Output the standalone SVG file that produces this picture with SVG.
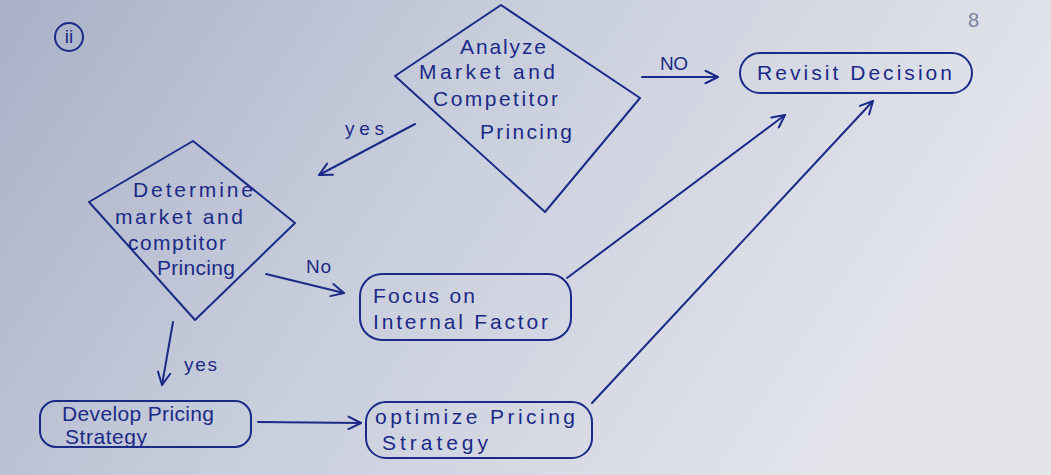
<svg xmlns="http://www.w3.org/2000/svg" width="1051" height="475" viewBox="0 0 1051 475">
<defs>
<linearGradient id="paper" x1="0" y1="0" x2="1" y2="0.3">
<stop offset="0" stop-color="#a9b1c7"/>
<stop offset="0.45" stop-color="#c8cddc"/>
<stop offset="1" stop-color="#e3e5eb"/>
</linearGradient>
<marker id="arr" viewBox="0 0 12 12" refX="11" refY="6" markerWidth="15" markerHeight="15" markerUnits="userSpaceOnUse" orient="auto">
<path d="M1,1 L11,6 L1,11" fill="none" stroke="#1b2a86" stroke-width="1.6" stroke-linecap="round" stroke-linejoin="round"/>
</marker>
<style>
.ink{fill:none;stroke:#1b2a86;stroke-width:2;stroke-linejoin:round;stroke-linecap:round}
.t{font-family:"Liberation Sans","DejaVu Sans",sans-serif;font-size:21px;fill:#1b2a86}
.lbl{font-family:"Liberation Sans","DejaVu Sans",sans-serif;font-size:19px;fill:#1b2a86}
</style>
</defs>
<rect x="0" y="0" width="1051" height="475" fill="url(#paper)"/>
<g id="page-mark">
<circle cx="69" cy="37" r="14" class="ink" stroke-width="1.6"/>
<text x="69" y="43" text-anchor="middle" class="lbl" font-size="17">ii</text>
<text x="968" y="27" font-family="Liberation Sans, sans-serif" font-size="20" fill="#7c84a0">8</text>
</g>
<g id="connectors">
<line x1="415" y1="124" x2="319" y2="175" class="ink" marker-end="url(#arr)"/>
<line x1="642" y1="77" x2="718" y2="77" class="ink" marker-end="url(#arr)"/>
<line x1="266" y1="274" x2="344" y2="293" class="ink" marker-end="url(#arr)"/>
<line x1="173" y1="322" x2="162" y2="385" class="ink" marker-end="url(#arr)"/>
<line x1="258" y1="422" x2="361" y2="423" class="ink" marker-end="url(#arr)"/>
<line x1="567" y1="278" x2="785" y2="115" class="ink" marker-end="url(#arr)"/>
<line x1="592" y1="403" x2="873" y2="101" class="ink" marker-end="url(#arr)"/>
<text x="345" y="135" class="lbl" textLength="39" lengthAdjust="spacing">yes</text>
<text x="660" y="70" class="lbl" font-size="17" textLength="28" lengthAdjust="spacing">NO</text>
<text x="306" y="273" class="lbl" font-size="17" textLength="25" lengthAdjust="spacing">No</text>
<text x="184" y="371" class="lbl" textLength="33" lengthAdjust="spacing">yes</text>
</g>
<g id="analyze">
<polygon points="501,5 640,98 545,212 395,76" class="ink"/>
<text x="460" y="54" class="t" textLength="86" lengthAdjust="spacing">Analyze</text>
<text x="419" y="79" class="t" textLength="136" lengthAdjust="spacing">Market and</text>
<text x="433" y="106" class="t" textLength="125" lengthAdjust="spacing">Competitor</text>
<text x="480" y="139" class="t" textLength="92" lengthAdjust="spacing">Princing</text>
</g>
<g id="determine">
<polygon points="193,141 295,223 195,320 89,202" class="ink"/>
<text x="133" y="197" class="t" textLength="120" lengthAdjust="spacing">Determine</text>
<text x="115" y="224" class="t" textLength="128" lengthAdjust="spacing">market and</text>
<text x="128" y="250" class="t" textLength="98" lengthAdjust="spacing">comptitor</text>
<text x="157" y="275" class="t" textLength="78" lengthAdjust="spacing">Princing</text>
</g>
<g id="revisit">
<rect x="740" y="53" width="232" height="40" rx="20" class="ink"/>
<text x="757" y="80" class="t" textLength="195" lengthAdjust="spacing">Revisit Decision</text>
</g>
<g id="focus">
<rect x="360" y="274" width="211" height="66" rx="22" class="ink"/>
<text x="373" y="303" class="t" textLength="102" lengthAdjust="spacing">Focus on</text>
<text x="373" y="329" class="t" textLength="175" lengthAdjust="spacing">Internal Factor</text>
</g>
<g id="develop">
<rect x="40" y="401" width="211" height="46" rx="16" class="ink"/>
<text x="62" y="421" class="t" textLength="152" lengthAdjust="spacing">Develop Pricing</text>
<text x="65" y="444" class="t" textLength="82" lengthAdjust="spacing">Strategy</text>
</g>
<g id="optimize">
<rect x="366" y="402" width="226" height="56" rx="20" class="ink"/>
<text x="375" y="424" class="t" textLength="200" lengthAdjust="spacing">optimize Pricing</text>
<text x="382" y="450" class="t" textLength="106" lengthAdjust="spacing">Strategy</text>
</g>
</svg>
